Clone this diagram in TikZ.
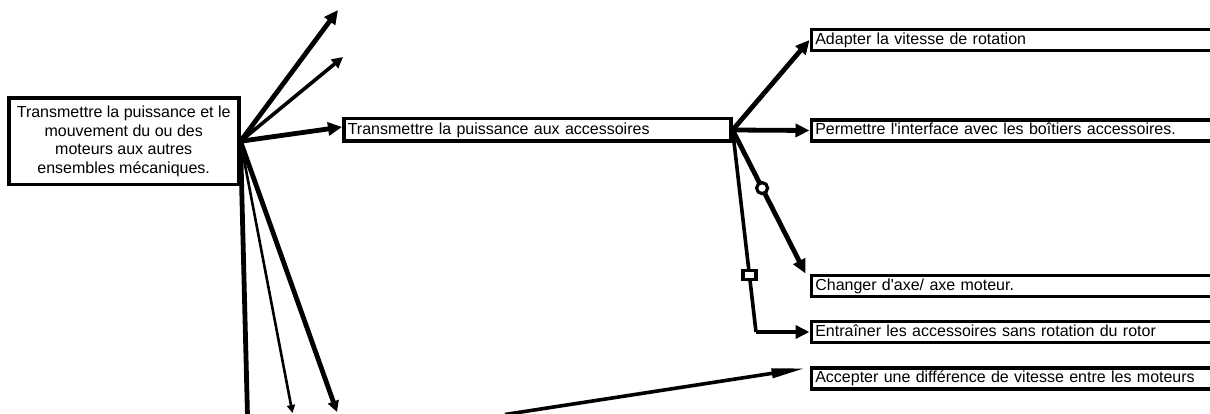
\documentclass[tikz,border=0pt]{standalone}
\usepackage{fontspec}
\setmainfont{Liberation Sans}
\usetikzlibrary{arrows.meta,calc}
\begin{document}
\begin{tikzpicture}[x=1pt,y=-1pt,
  box/.style={draw,line width=3.6pt,inner sep=0pt,font=\fontsize{16}{18.7}\selectfont},
  fbox/.style={box,anchor=west,minimum width=420pt,minimum height=21pt,
    text width=412pt,align=left,text height=12pt,text depth=3.5pt},
  thick link/.style={line width=4.8pt,line join=miter},
  mid link/.style={line width=3.6pt},
  thin link/.style={line width=2.6pt},
  bigtip/.style={-{Triangle[length=14pt,width=13pt]}},
  midtip/.style={-{Triangle[length=11pt,width=11pt]}},
  smalltip/.style={-{Triangle[length=8pt,width=8pt]}},
  flattip/.style={-{Triangle[length=34pt,width=9pt]}},
  ringmark/.style={circle,draw,fill=white,line width=3.2pt,minimum size=11pt,inner sep=0pt},
  squaremark/.style={rectangle,draw,fill=white,line width=3.8pt,minimum width=13pt,minimum height=9pt,inner sep=0pt}
]
\useasboundingbox (0,0) rectangle (1210,414);
\clip (0,0) rectangle (1210,414);

% main function
\node[box,minimum width=230pt,minimum height=86.5pt,align=center] (root) at (123.7,141.25)
  {Transmettre la puissance et le\\mouvement du ou des\\moteurs aux autres\\ensembles mécaniques.};

% second level
\node[box,anchor=west,minimum width=387pt,minimum height=22.6pt,text width=379pt,
  align=left,text height=12pt,text depth=3.5pt] (acc) at (342,130)
  {Transmettre la puissance aux accessoires};

% third level (boxes run past the right edge)
\node[fbox] (adapt)  at (809.5,40)    {Adapter la vitesse de rotation};
\node[fbox] (interf) at (809.5,130.5) {Permettre l\textquotesingle interface avec les boîtiers accessoires.};
\node[fbox] (axe)    at (809.5,285.8) {Changer d\textquotesingle axe/ axe moteur.};
\node[fbox] (entr)   at (809.5,332)   {Entraîner les accessoires sans rotation du rotor};
\node[fbox] (accept) at (809.5,378.5) {Accepter une différence de vitesse entre les moteurs};

% free ends
\coordinate (t1) at (338,10);
\coordinate (t2) at (343,57);
\coordinate (b1) at (247.6,420);
\coordinate (b2) at (292.5,413);
\coordinate (b3) at (337,412);
\coordinate (s1) at (505,414.5);
\coordinate (bend) at (756,332);

% links from the main function
\draw[thick link,bigtip] (root.east) -- (t1);
\draw[mid link,midtip] (root.east) -- (t2);
\draw[thick link,bigtip] (root.east) -- ([yshift=3pt]acc.west);
\draw[thick link] (root.east) -- (b1);
\draw[thin link,smalltip] (root.east) -- (b2);
\draw[thick link,midtip] (root.east) -- (b3);

% links from the accessory drive
\draw[thick link,bigtip] (acc.east) -- (adapt.west);
\draw[thick link,bigtip] (acc.east) -- (interf.west);
\draw[thick link,bigtip] (acc.east) -- ([xshift=-4pt]axe.north west)
  node[ringmark,pos=0.405] (ring) {};
\draw[mid link] (acc.east) -- (bend) node[squaremark,pos=0.718] (sq) {};
\draw[thick link,bigtip] (bend) -- (entr.west);
\draw[mid link,flattip] (s1) -- ([xshift=-4pt,yshift=-2pt]accept.north west);
\end{tikzpicture}
\end{document}
